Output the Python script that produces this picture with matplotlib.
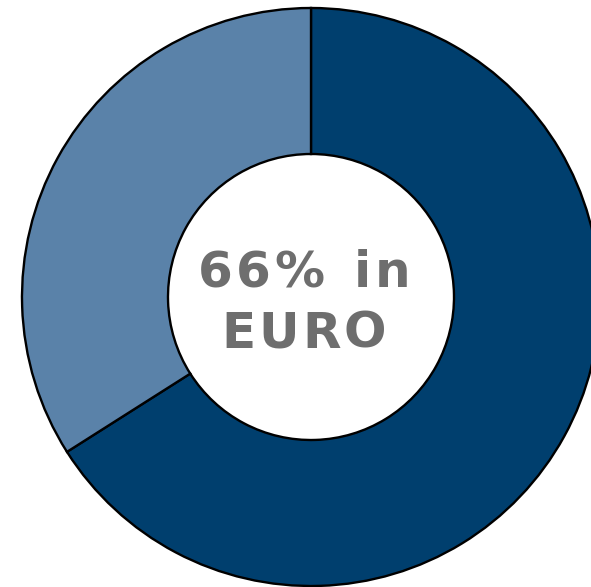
import matplotlib
matplotlib.use("Agg")
import matplotlib.pyplot as plt

labels = ["EURO", "Other"]
values = [66, 34]
colors = ["#003F6E", "#5A82A9"]
center_lines = ["66% in", "EURO"]

W, H = 591, 587
fig = plt.figure(figsize=(W / 100, H / 100), dpi=100)
ax = fig.add_axes([0, 0, 1, 1])

cx, cy, R = 311, H - 297, 289
ax.pie(values, colors=colors, startangle=90, counterclock=False,
       center=(cx, cy), radius=R, frame=True,
       wedgeprops=dict(width=R - 143, edgecolor="black", linewidth=1.7))
ax.set_xlim(0, W)
ax.set_ylim(0, H)
ax.set_aspect("equal")
ax.axis("off")

# letter-spaced centre label (each character is real text)
font = dict(fontsize=36, fontweight="bold", family=["DejaVu Sans"],
            color="#6E6E6E")
renderer = fig.canvas.get_renderer()
line_widths = [212, 165]
baselines = [H - 287, H - 348]
space_gap = 22
text_cx = 304
for line, target, base in zip(center_lines, line_widths, baselines):
    chars = list(line)
    widths = []
    for ch in chars:
        if ch == " ":
            widths.append(space_gap)
            continue
        t = ax.text(0, 0, ch, **font)
        bb = t.get_window_extent(renderer)
        widths.append(bb.width)
        t.remove()
    ngaps = len(chars) - 1
    gap = (target - sum(widths)) / ngaps
    x = text_cx - target / 2
    for ch, w in zip(chars, widths):
        if ch != " ":
            ax.text(x, base, ch, ha="left", va="baseline", **font)
        x += w + gap

fig.savefig("out.png", dpi=100)
